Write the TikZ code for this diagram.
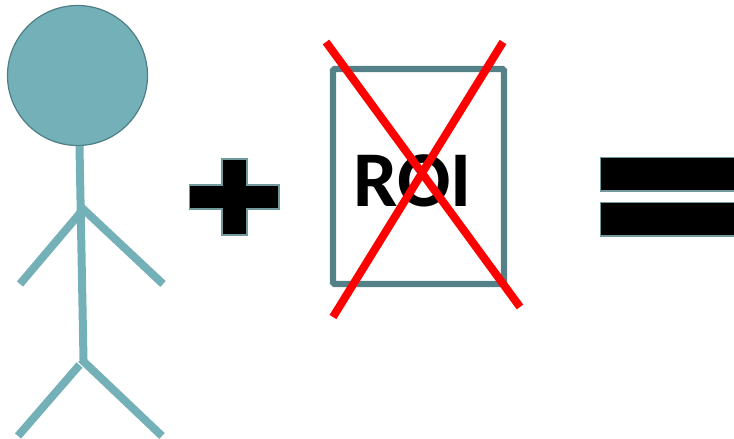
\documentclass[tikz,border=0pt]{standalone}
\usepackage{fontspec}
\setmainfont{Carlito}
\definecolor{figteal}{HTML}{74B0B8}
\definecolor{edgeteal}{HTML}{4F7F85}
\definecolor{boxteal}{HTML}{548087}
\tikzset{
  limb/.style={draw=figteal,line width=8pt},
  sign/.style={fill=black,draw=edgeteal!80,line width=1.2pt},
  cross/.style={draw=red,line width=8pt}
}
\begin{document}
\begin{tikzpicture}[x=1pt,y=-1pt]
\useasboundingbox (0,0) rectangle (734,439);
% figure
\node[circle,draw=edgeteal,fill=figteal,line width=1.2pt,minimum size=140pt,inner sep=0pt] (head) at (77.5,75.5) {};
\coordinate (neck) at (79.5,146);
\coordinate (hip) at (83.5,360);
\coordinate (larmS) at (81,212);
\coordinate (larmE) at (20,284);
\coordinate (rarmS) at (81,207);
\coordinate (rarmE) at (163,284);
\coordinate (llegS) at (79.5,365);
\coordinate (llegE) at (18,436);
\coordinate (rlegS) at (81,359);
\coordinate (rlegE) at (162,436);
\draw[limb] (neck) -- (hip);
\draw[limb] (larmS) -- (larmE);
\draw[limb] (rarmS) -- (rarmE);
\draw[limb] (llegS) -- (llegE);
\draw[limb] (rlegS) -- (rlegE);
% plus
\draw[sign] (189.5,185) -- (222,185) -- (222,159) -- (247,159) -- (247,185) -- (279,185) -- (279,209) -- (247,209) -- (247,235) -- (222,235) -- (222,209) -- (189.5,209) -- cycle;
% ROI
\node[draw=boxteal,line width=6.2pt,rounded corners=1.5pt,minimum width=171pt,minimum height=215pt,inner sep=0pt] (box) at (418.5,176.5) {};
\node[font=\fontsize{79}{79}\selectfont\bfseries,inner sep=0pt,text=black] (roi) at (412.5,181) {ROI};
\coordinate (a1) at (326,42);
\coordinate (a2) at (520,307);
\coordinate (b1) at (503,42);
\coordinate (b2) at (333,317);
\draw[cross] (a1) -- (a2);
\draw[cross] (b1) -- (b2);
% equals
\draw[sign] (600.5,157.5) rectangle (740,191);
\draw[sign] (600.5,202.5) rectangle (740,236);
\end{tikzpicture}
\end{document}
